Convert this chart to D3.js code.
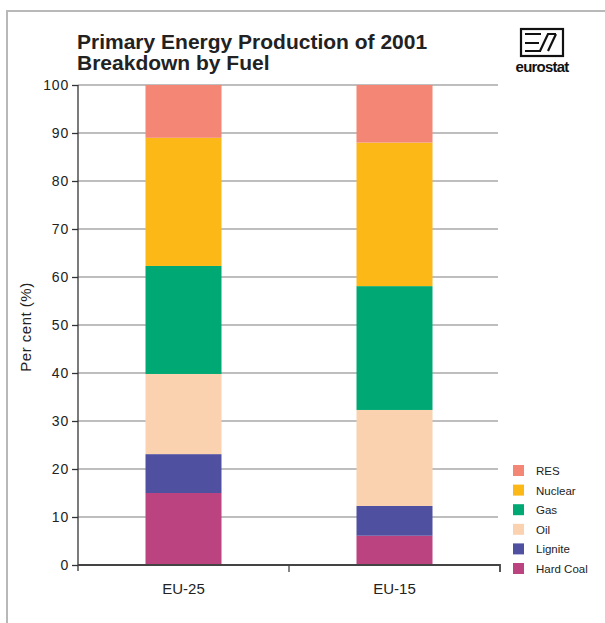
<!DOCTYPE html>
<html><head><meta charset="utf-8">
<script src="https://cdn.jsdelivr.net/npm/d3@7"></script>
<style>body{margin:0;background:#fff}svg{display:block}text{font-family:"Liberation Sans",Arial,sans-serif}</style>
</head><body>
<script>
const categories = ["EU-25", "EU-15"];
const fuels = ["Hard Coal", "Lignite", "Oil", "Gas", "Nuclear", "RES"];
const hardCoal = [15.0, 6.1];
const lignite = [8.1, 6.2];
const oil = [16.7, 20.0];
const gas = [22.5, 25.8];
const nuclear = [26.7, 29.9];
const res = [11.0, 12.0];
const yTicks = [0, 10, 20, 30, 40, 50, 60, 70, 80, 90, 100];
const colors = ["#bb4480", "#5050a0", "#fad2b0", "#00a974", "#fbb817", "#f38674"];

const series = [hardCoal, lignite, oil, gas, nuclear, res];
const rows = categories.map((c, i) => {
  const r = {cat: c};
  fuels.forEach((f, j) => r[f] = series[j][i]);
  return r;
});

const W = 605, H = 623;
const svg = d3.select("body").append("svg").attr("width", W).attr("height", H);

// frame
svg.append("path").attr("d", "M7,623 V11 H605").attr("fill", "none").attr("stroke", "#b8b8b8").attr("stroke-width", 2);

const x = d3.scaleBand().domain(categories).range([78, 500]).paddingInner(0).paddingOuter(0);
const y = d3.scaleLinear().domain([0, 100]).range([565, 85]);

// gridlines
svg.append("g").selectAll("line").data(yTicks.filter(d => d > 0)).join("line")
  .attr("x1", 78).attr("x2", 498).attr("y1", d => y(d)).attr("y2", d => y(d))
  .attr("stroke", "#a9a9a9").attr("stroke-width", 1.6);

// bars
const stack = d3.stack().keys(fuels)(rows);
const bw = 76;
svg.append("g").selectAll("g").data(stack).join("g")
  .attr("fill", (d, i) => colors[i])
  .selectAll("rect").data(d => d).join("rect")
  .attr("x", d => x(d.data.cat) + x.bandwidth() / 2 - bw / 2)
  .attr("width", bw)
  .attr("y", d => y(d[1]))
  .attr("height", d => y(d[0]) - y(d[1]));

// y axis
const ya = svg.append("g").attr("transform", "translate(78,0)")
  .call(d3.axisLeft(y).tickValues(yTicks).tickSize(6).tickPadding(3));
ya.select(".domain").attr("stroke", "#333").attr("stroke-width", 1.3).attr("d", "M0,85 V571");
ya.selectAll(".tick line").attr("stroke", "#333").attr("stroke-width", 1.3);
ya.selectAll("text").attr("font-size", 14).attr("fill", "#222").attr("letter-spacing", 0.8)
  .attr("font-family", "Liberation Sans, Arial, sans-serif");

// x axis
const xa = svg.append("g").attr("transform", "translate(0,565)")
  .call(d3.axisBottom(x).tickSize(0).tickPadding(18));
xa.select(".domain").attr("stroke", "#444").attr("stroke-width", 1.8).attr("d", "M78,0 H500 V7");
xa.selectAll("text").attr("font-size", 15).attr("fill", "#222")
  .attr("font-family", "Liberation Sans, Arial, sans-serif");
xa.append("line").attr("x1", x("EU-15")).attr("x2", x("EU-15")).attr("y1", 0).attr("y2", 7)
  .attr("stroke", "#444").attr("stroke-width", 1.3);

// y label
svg.append("text").attr("transform", "translate(31,327) rotate(-90)")
  .attr("text-anchor", "middle").attr("font-size", 15).attr("letter-spacing", 0.5)
  .attr("fill", "#222").text("Per cent (%)");

// title
const title = svg.append("text").attr("font-weight", "bold").attr("font-size", 21).attr("fill", "#222");
title.append("tspan").attr("x", 77).attr("y", 49).text("Primary Energy Production of 2001");
title.append("tspan").attr("x", 77).attr("y", 70).text("Breakdown by Fuel");

// logo
const lg = svg.append("g");
lg.append("rect").attr("x", 521).attr("y", 29).attr("width", 42).attr("height", 27)
  .attr("fill", "none").attr("stroke", "#111").attr("stroke-width", 2.2);
lg.append("path").attr("d", "M525,34 H541 M525,43 H539 M525,51 H541 M540,51 L548,34 H556 M548,51 L556,34")
  .attr("fill", "none").attr("stroke", "#111").attr("stroke-width", 2.2);
lg.append("text").attr("x", 542).attr("y", 72).attr("text-anchor", "middle")
  .attr("font-size", 15).attr("font-weight", "bold").attr("fill", "#111").attr("letter-spacing", -0.8).text("eurostat");

// legend
const legendOrder = fuels.map((f, i) => ({f, c: colors[i]})).reverse();
const leg = svg.append("g").selectAll("g").data(legendOrder).join("g")
  .attr("transform", (d, i) => `translate(513,${465 + i * 19.6})`);
leg.append("rect").attr("width", 11).attr("height", 11).attr("fill", d => d.c);
leg.append("text").attr("x", 23).attr("y", 10).attr("font-size", 11.5).attr("fill", "#222").text(d => d.f);
</script>
</body></html>
